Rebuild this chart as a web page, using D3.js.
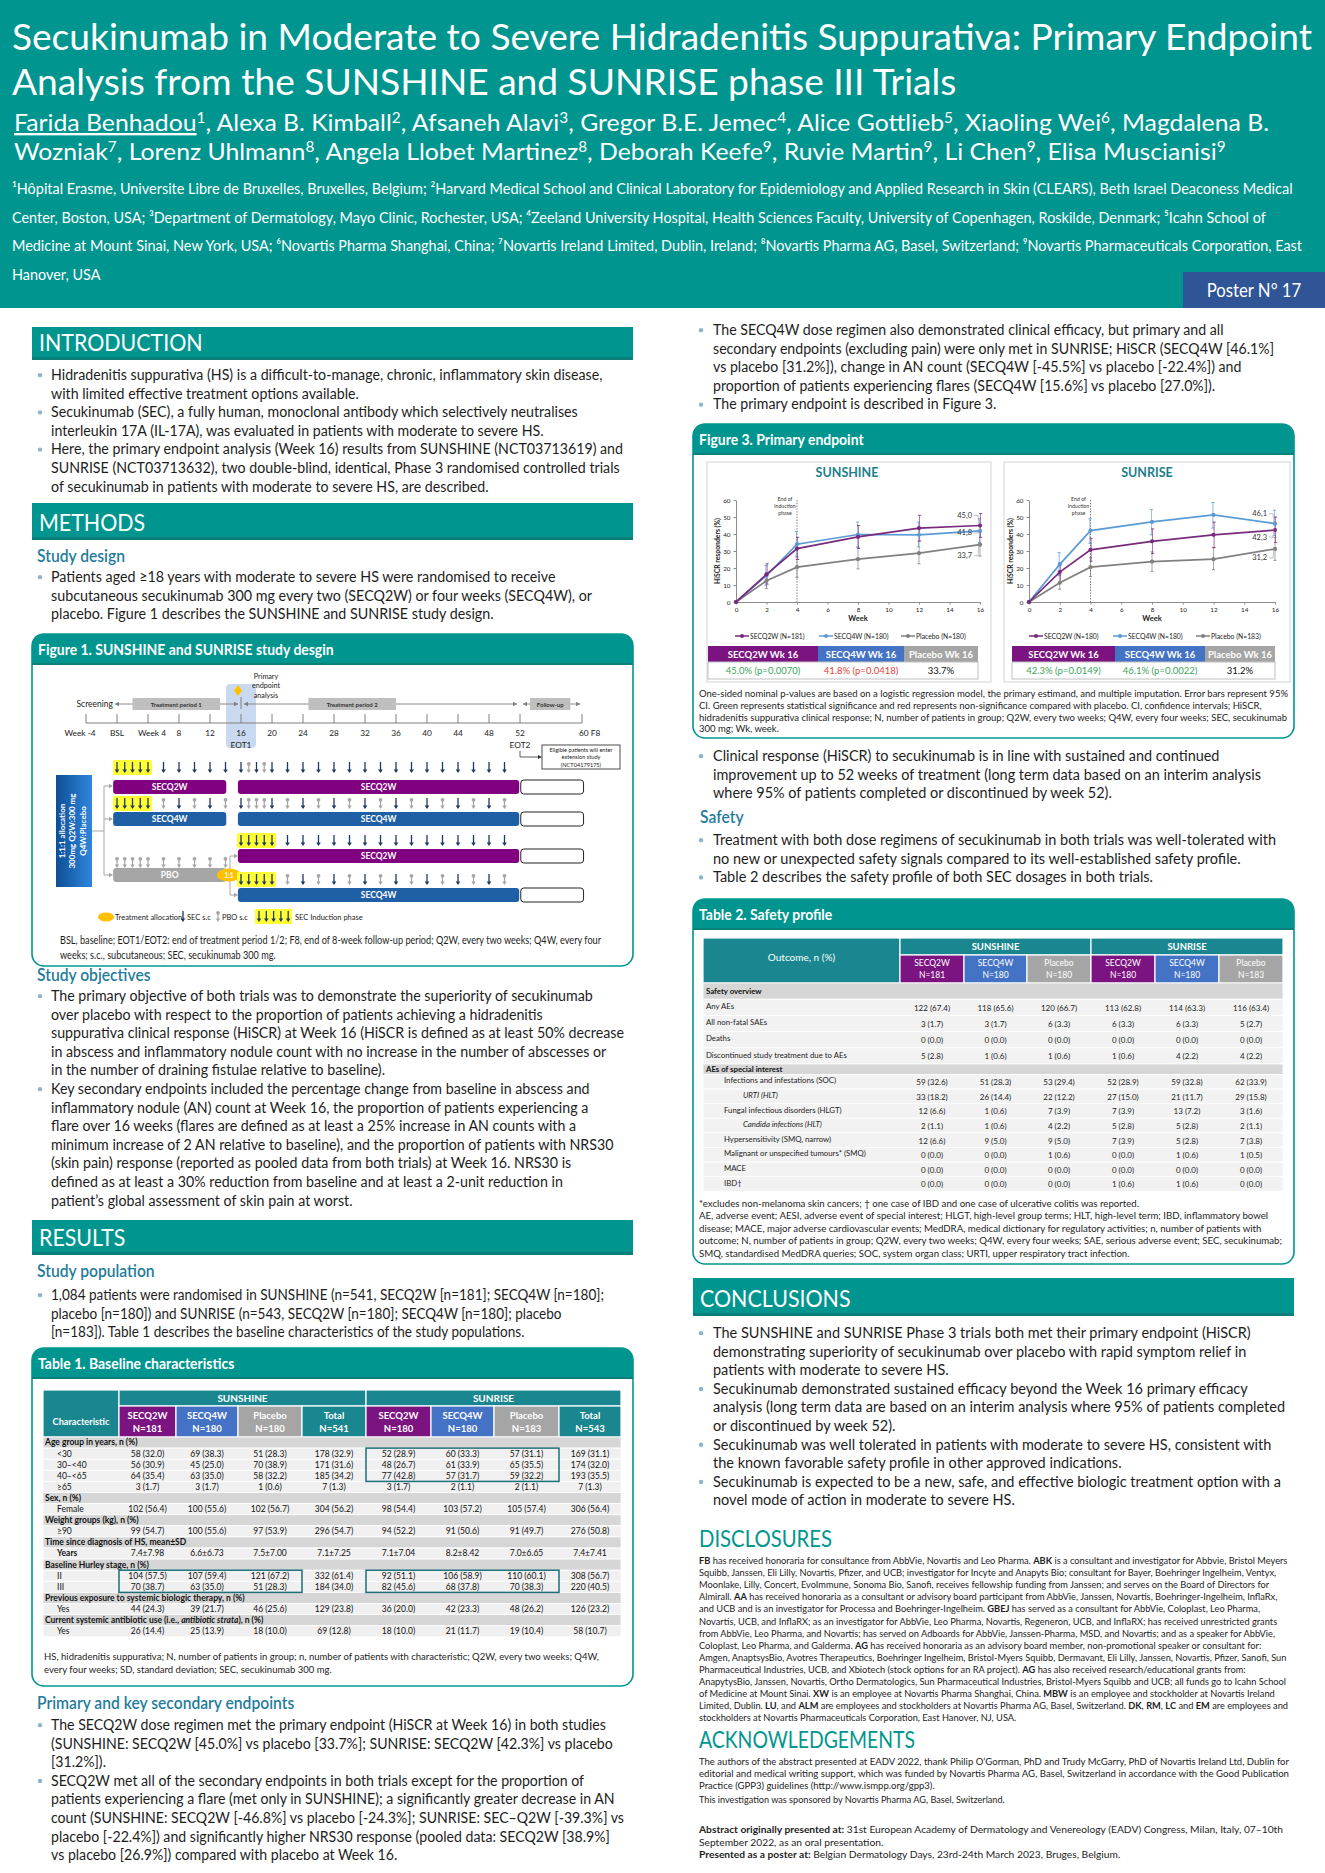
<!DOCTYPE html>
<html><head><meta charset="utf-8">
<script src="https://cdn.jsdelivr.net/npm/d3@7"></script>
<style>body{margin:0;background:#fff}svg{display:block}</style>
</head><body>
<svg id="poster" width="1325" height="1873"></svg>
<script>
// ================= DATA =================
const weeks = [0, 2, 4, 8, 12, 16];
const xTicks = [0, 2, 4, 6, 8, 10, 12, 14, 16];
const yTicks = [0, 10, 20, 30, 40, 50, 60];
const seriesNames = ['SECQ2W', 'SECQ4W', 'Placebo'];

const sunshineQ2W = [0, 16.3, 31.4, 38.3, 43.4, 45.0];
const sunshineQ2WLo = [0, 10.5, 25.0, 31.5, 36.0, 38.0];
const sunshineQ2WHi = [0, 22.5, 38.0, 45.0, 51.0, 52.0];
const sunshineQ4W = [0, 15.6, 34.0, 39.7, 39.5, 41.8];
const sunshineQ4WLo = [0, 9.5, 27.0, 32.5, 32.5, 35.0];
const sunshineQ4WHi = [0, 21.5, 41.5, 47.0, 47.0, 49.0];
const sunshinePBO = [0, 12.5, 20.5, 25.2, 28.7, 33.7];
const sunshinePBOLo = [0, 8.0, 14.5, 19.5, 22.5, 27.0];
const sunshinePBOHi = [0, 17.0, 26.5, 32.0, 35.5, 41.0];

const sunriseQ2W = [0, 17.6, 30.7, 35.7, 39.5, 42.3];
const sunriseQ2WLo = [0, 11.5, 24.0, 28.5, 32.0, 35.0];
const sunriseQ2WHi = [0, 23.0, 37.5, 43.0, 47.0, 50.0];
const sunriseQ4W = [0, 22.1, 42.0, 47.1, 51.2, 46.1];
const sunriseQ4WLo = [0, 15.5, 34.5, 39.5, 43.5, 39.0];
const sunriseQ4WHi = [0, 29.0, 49.0, 54.5, 58.5, 54.0];
const sunrisePBO = [0, 11.3, 20.5, 23.8, 25.2, 31.2];
const sunrisePBOLo = [0, 7.5, 15.0, 18.0, 19.0, 24.5];
const sunrisePBOHi = [0, 16.0, 26.0, 29.5, 32.0, 38.0];

const sunshineLegend = ['SECQ2W (N=181)', 'SECQ4W (N=180)', 'Placebo (N=180)'];
const sunriseLegend = ['SECQ2W (N=180)', 'SECQ4W (N=180)', 'Placebo (N=183)'];
const wk16Headers = ['SECQ2W Wk 16', 'SECQ4W Wk 16', 'Placebo Wk 16'];
const sunshineWk16 = ['45.0% (p=0.0070)', '41.8% (p=0.0418)', '33.7%'];
const sunshineWk16Sig = ['sig', 'ns', 'ref'];
const sunriseWk16 = ['42.3% (p=0.0149)', '46.1% (p=0.0022)', '31.2%'];
const sunriseWk16Sig = ['sig', 'sig', 'ref'];

// Figure 1 (study design) schedule, in weeks
const timelineWeeks = [-4, 0, 4, 8, 12, 16, 20, 24, 28, 32, 36, 40, 44, 48, 52, 60];
const timelineLabels = ['Week -4', 'BSL', 'Week 4', '8', '12', '16', '20', '24', '28', '32', '36', '40', '44', '48', '52', '60  F8'];
const row1Sec = [0, 1, 2, 3, 4, 6, 8, 10, 12, 14, 16, 18, 20, 22, 24, 26, 28, 30, 32, 34, 36, 38, 40, 42, 44, 46, 48, 50];
const row1Pbo = [17, 19];
const row2Sec = [0, 1, 2, 3, 4, 8, 12, 16, 20, 24, 28, 32, 36, 40, 44, 48];
const row2Pbo = [6, 10, 14, 17, 18, 19, 22, 26, 30, 34, 38, 42, 46, 50];
const row3Sec = [16, 17, 18, 19, 20, 22, 24, 26, 28, 30, 32, 34, 36, 38, 40, 42, 44, 46, 48, 50];
const row3Pbo = [];
const pboRowPbo = [0, 1, 2, 3, 4, 6, 8, 10, 12, 14];
const row4Sec = [16, 17, 18, 19, 20, 24, 28, 32, 36, 40, 44, 48];
const row4Pbo = [22, 26, 30, 34, 38, 42, 46, 50];

// Table 1
const t1Groups = ['SECQ2W', 'SECQ4W', 'Placebo', 'Total', 'SECQ2W', 'SECQ4W', 'Placebo', 'Total'];
const t1N = ['N=181', 'N=180', 'N=180', 'N=541', 'N=180', 'N=180', 'N=183', 'N=543'];
const t1Rows = [
  ['S', 'Age group in years, n (%)'],
  ['D', '<30', '58 (32.0)', '69 (38.3)', '51 (28.3)', '178 (32.9)', '52 (28.9)', '60 (33.3)', '57 (31.1)', '169 (31.1)'],
  ['D', '30–<40', '56 (30.9)', '45 (25.0)', '70 (38.9)', '171 (31.6)', '48 (26.7)', '61 (33.9)', '65 (35.5)', '174 (32.0)'],
  ['D', '40–<65', '64 (35.4)', '63 (35.0)', '58 (32.2)', '185 (34.2)', '77 (42.8)', '57 (31.7)', '59 (32.2)', '193 (35.5)'],
  ['D', '≥65', '3 (1.7)', '3 (1.7)', '1 (0.6)', '7 (1.3)', '3 (1.7)', '2 (1.1)', '2 (1.1)', '7 (1.3)'],
  ['S', 'Sex, n (%)'],
  ['D', 'Female', '102 (56.4)', '100 (55.6)', '102 (56.7)', '304 (56.2)', '98 (54.4)', '103 (57.2)', '105 (57.4)', '306 (56.4)'],
  ['S', 'Weight groups (kg), n (%)'],
  ['D', '≥90', '99 (54.7)', '100 (55.6)', '97 (53.9)', '296 (54.7)', '94 (52.2)', '91 (50.6)', '91 (49.7)', '276 (50.8)'],
  ['S', 'Time since diagnosis of HS, mean±SD'],
  ['B', 'Years', '7.4±7.98', '6.6±6.73', '7.5±7.00', '7.1±7.25', '7.1±7.04', '8.2±8.42', '7.0±6.65', '7.4±7.41'],
  ['S', 'Baseline Hurley stage, n (%)'],
  ['D', 'II', '104 (57.5)', '107 (59.4)', '121 (67.2)', '332 (61.4)', '92 (51.1)', '106 (58.9)', '110 (60.1)', '308 (56.7)'],
  ['D', 'III', '70 (38.7)', '63 (35.0)', '51 (28.3)', '184 (34.0)', '82 (45.6)', '68 (37.8)', '70 (38.3)', '220 (40.5)'],
  ['S', 'Previous exposure to systemic biologic therapy, n (%)'],
  ['D', 'Yes', '44 (24.3)', '39 (21.7)', '46 (25.6)', '129 (23.8)', '36 (20.0)', '42 (23.3)', '48 (26.2)', '126 (23.2)'],
  ['S', 'Current systemic antibiotic use (i.e., __antibiotic strata__), n (%)'],
  ['D', 'Yes', '26 (14.4)', '25 (13.9)', '18 (10.0)', '69 (12.8)', '18 (10.0)', '21 (11.7)', '19 (10.4)', '58 (10.7)']
];

// Table 2
const t2Groups = ['SECQ2W', 'SECQ4W', 'Placebo', 'SECQ2W', 'SECQ4W', 'Placebo'];
const t2N = ['N=181', 'N=180', 'N=180', 'N=180', 'N=180', 'N=183'];
const t2Rows = [
  ['S', 'Safety overview'],
  ['D0', 'Any AEs', '122 (67.4)', '118 (65.6)', '120 (66.7)', '113 (62.8)', '114 (63.3)', '116 (63.4)'],
  ['D0', 'All non-fatal SAEs', '3 (1.7)', '3 (1.7)', '6 (3.3)', '6 (3.3)', '6 (3.3)', '5 (2.7)'],
  ['D0', 'Deaths', '0 (0.0)', '0 (0.0)', '0 (0.0)', '0 (0.0)', '0 (0.0)', '0 (0.0)'],
  ['D0', 'Discontinued study treatment due to AEs', '5 (2.8)', '1 (0.6)', '1 (0.6)', '1 (0.6)', '4 (2.2)', '4 (2.2)'],
  ['S2', 'AEs of special interest'],
  ['D1', 'Infections and infestations (SOC)', '59 (32.6)', '51 (28.3)', '53 (29.4)', '52 (28.9)', '59 (32.8)', '62 (33.9)'],
  ['D2', 'URTI (HLT)', '33 (18.2)', '26 (14.4)', '22 (12.2)', '27 (15.0)', '21 (11.7)', '29 (15.8)'],
  ['D1', 'Fungal infectious disorders (HLGT)', '12 (6.6)', '1 (0.6)', '7 (3.9)', '7 (3.9)', '13 (7.2)', '3 (1.6)'],
  ['D2', 'Candida infections (HLT)', '2 (1.1)', '1 (0.6)', '4 (2.2)', '5 (2.8)', '5 (2.8)', '2 (1.1)'],
  ['D1', 'Hypersensitivity (SMQ, narrow)', '12 (6.6)', '9 (5.0)', '9 (5.0)', '7 (3.9)', '5 (2.8)', '7 (3.8)'],
  ['D1', 'Malignant or unspecified tumours* (SMQ)', '0 (0.0)', '0 (0.0)', '1 (0.6)', '0 (0.0)', '1 (0.6)', '1 (0.5)'],
  ['D1', 'MACE', '0 (0.0)', '0 (0.0)', '0 (0.0)', '0 (0.0)', '0 (0.0)', '0 (0.0)'],
  ['D1', 'IBD†', '0 (0.0)', '0 (0.0)', '0 (0.0)', '1 (0.6)', '1 (0.6)', '0 (0.0)']
];

// Texts
const titleLines = ['Secukinumab in Moderate to Severe Hidradenitis Suppurativa: Primary Endpoint',
  'Analysis from the SUNSHINE and SUNRISE phase III Trials'];
const authorLines = ['~~Farida Benhadou~~^1^, Alexa B. Kimball^2^, Afsaneh Alavi^3^, Gregor B.E. Jemec^4^, Alice Gottlieb^5^, Xiaoling Wei^6^, Magdalena B.',
  'Wozniak^7^, Lorenz Uhlmann^8^, Angela Llobet Martinez^8^, Deborah Keefe^9^, Ruvie Martin^9^, Li Chen^9^, Elisa Muscianisi^9^'];
const affiliationLines = [
  '\u00B9Hôpital Erasme, Universite Libre de Bruxelles, Bruxelles, Belgium; \u00B2Harvard Medical School and Clinical Laboratory for Epidemiology and Applied Research in Skin (CLEARS), Beth Israel Deaconess Medical',
  'Center, Boston, USA; \u00B3Department of Dermatology, Mayo Clinic, Rochester, USA; \u2074Zeeland University Hospital, Health Sciences Faculty, University of Copenhagen, Roskilde, Denmark; \u2075Icahn School of',
  'Medicine at Mount Sinai, New York, USA; \u2076Novartis Pharma Shanghai, China; \u2077Novartis Ireland Limited, Dublin, Ireland; \u2078Novartis Pharma AG, Basel, Switzerland; \u2079Novartis Pharmaceuticals Corporation, East',
  'Hanover, USA'];
const introLines = [
  '• Hidradenitis suppurativa (HS) is a difficult-to-manage, chronic, inflammatory skin disease,',
  'with limited effective treatment options available.',
  '• Secukinumab (SEC), a fully human, monoclonal antibody which selectively neutralises',
  'interleukin 17A (IL-17A), was evaluated in patients with moderate to severe HS.',
  '• Here, the primary endpoint analysis (Week 16) results from SUNSHINE (NCT03713619) and',
  'SUNRISE (NCT03713632), two double-blind, identical, Phase 3 randomised controlled trials',
  'of secukinumab in patients with moderate to severe HS, are described.'];
const designLines = [
  '• Patients aged ≥18 years with moderate to severe HS were randomised to receive',
  'subcutaneous secukinumab 300 mg every two (SECQ2W) or four weeks (SECQ4W), or',
  'placebo. Figure 1 describes the SUNSHINE and SUNRISE study design.'];
const fig1Notes = [
  'BSL, baseline; EOT1/EOT2: end of treatment period 1/2; F8, end of 8-week follow-up period; Q2W, every two weeks; Q4W, every four',
  'weeks; s.c., subcutaneous; SEC, secukinumab 300 mg.'];
const objectiveLines = [
  '• The primary objective of both trials was to demonstrate the superiority of secukinumab',
  'over placebo with respect to the proportion of patients achieving a hidradenitis',
  'suppurativa clinical response (HiSCR) at Week 16 (HiSCR is defined as at least 50% decrease',
  'in abscess and inflammatory nodule count with no increase in the number of abscesses or',
  'in the number of draining fistulae relative to baseline).',
  '• Key secondary endpoints included the percentage change from baseline in abscess and',
  'inflammatory nodule (AN) count at Week 16, the proportion of patients experiencing a',
  'flare over 16 weeks (flares are defined as at least a 25% increase in AN counts with a',
  'minimum increase of 2 AN relative to baseline), and the proportion of patients with NRS30',
  '(skin pain) response (reported as pooled data from both trials) at Week 16. NRS30 is',
  'defined as at least a 30% reduction from baseline and at least a 2-unit reduction in',
  'patient\u2019s global assessment of skin pain at worst.'];
const populationLines = [
  '• 1,084 patients were randomised in SUNSHINE (n=541, SECQ2W [n=181]; SECQ4W [n=180];',
  'placebo [n=180]) and SUNRISE (n=543, SECQ2W [n=180]; SECQ4W [n=180]; placebo',
  '[n=183]). Table 1 describes the baseline characteristics of the study populations.'];
const t1Notes = [
  'HS, hidradenitis suppurativa; N, number of patients in group; n, number of patients with characteristic; Q2W, every two weeks; Q4W,',
  'every four weeks; SD, standard deviation; SEC, secukinumab 300 mg.'];
const primaryLines = [
  '• The SECQ2W dose regimen met the primary endpoint (HiSCR at Week 16) in both studies',
  '(SUNSHINE: SECQ2W [45.0%] vs placebo [33.7%]; SUNRISE: SECQ2W [42.3%] vs placebo',
  '[31.2%]).',
  '• SECQ2W met all of the secondary endpoints in both trials except for the proportion of',
  'patients experiencing a flare (met only in SUNSHINE); a significantly greater decrease in AN',
  'count (SUNSHINE: SECQ2W [-46.8%] vs placebo [-24.3%]; SUNRISE: SEC\u2013Q2W [-39.3%] vs',
  'placebo [-22.4%]) and significantly higher NRS30 response (pooled data: SECQ2W [38.9%]',
  'vs placebo [26.9%]) compared with placebo at Week 16.'];
const q4wLines = [
  '• The SECQ4W dose regimen also demonstrated clinical efficacy, but primary and all',
  'secondary endpoints (excluding pain) were only met in SUNRISE; HiSCR (SECQ4W [46.1%]',
  'vs placebo [31.2%]), change in AN count (SECQ4W [-45.5%] vs placebo [-22.4%]) and',
  'proportion of patients experiencing flares (SECQ4W [15.6%] vs placebo [27.0%]).',
  '• The primary endpoint is described in Figure 3.'];
const fig3Notes = [
  'One-sided nominal p-values are based on a logistic regression model, the primary estimand, and multiple imputation. Error bars represent 95%',
  'CI. Green represents statistical significance and red represents non-significance compared with placebo. CI, confidence intervals; HiSCR,',
  'hidradenitis suppurativa clinical response;  N, number of patients in group; Q2W, every two weeks; Q4W, every four weeks; SEC, secukinumab',
  '300 mg; Wk, week.'];
const clinicalLines = [
  '• Clinical response (HiSCR) to secukinumab is in line with sustained and continued',
  'improvement up to 52 weeks of treatment (long term data based on an interim analysis',
  'where 95% of patients completed or discontinued by week 52).'];
const safetyLines = [
  '• Treatment with both dose regimens of secukinumab in both trials was well-tolerated with',
  'no new or unexpected safety signals compared to its well-established safety profile.',
  '• Table 2 describes the safety profile of both SEC dosages in both trials.'];
const t2Notes = [
  '*excludes non-melanoma skin cancers; \u2020 one case of IBD and one case of ulcerative colitis was reported.',
  'AE, adverse event; AESI, adverse event of special interest; HLGT, high-level group terms; HLT, high-level term; IBD, inflammatory bowel',
  'disease; MACE, major adverse cardiovascular events; MedDRA, medical dictionary for regulatory activities; n, number of patients with',
  'outcome; N, number of patients in group; Q2W, every two weeks; Q4W, every four weeks; SAE, serious adverse event; SEC, secukinumab;',
  'SMQ, standardised MedDRA queries; SOC, system organ class; URTI, upper respiratory tract infection.'];
const conclusionLines = [
  '• The SUNSHINE and SUNRISE Phase 3 trials both met their primary endpoint (HiSCR)',
  'demonstrating superiority of secukinumab over placebo with rapid symptom relief in',
  'patients with moderate to severe HS.',
  '• Secukinumab demonstrated sustained efficacy beyond the Week 16 primary efficacy',
  'analysis (long term data are based on an interim analysis where 95% of patients completed',
  'or discontinued by week 52).',
  '• Secukinumab was well tolerated in patients with moderate to severe HS, consistent with',
  'the known favorable safety profile in other approved indications.',
  '• Secukinumab is expected to be a new, safe, and effective biologic treatment option with a',
  'novel mode of action in moderate to severe HS.'];
const disclosureLines = [
  '**FB** has received honoraria for consultance from AbbVie, Novartis and Leo Pharma. **ABK** is a consultant and investigator for Abbvie, Bristol Meyers',
  'Squibb, Janssen, Eli Lilly, Novartis, Pfizer, and UCB; investigator for Incyte and Anapyts Bio; consultant for Bayer, Boehringer Ingelheim, Ventyx,',
  'Moonlake, Lilly, Concert, EvoImmune, Sonoma Bio, Sanofi, receives fellowship funding from Janssen; and serves on the Board of Directors for',
  'Almirall. **AA** has received honoraria as a consultant or advisory board participant from AbbVie, Janssen, Novartis, Boehringer-Ingelheim, InflaRx,',
  'and UCB and is an investigator for Processa and Boehringer-Ingelheim. **GBEJ** has served as a consultant for AbbVie, Coloplast, Leo Pharma,',
  'Novartis, UCB, and InflaRX; as an investigator for AbbVie, Leo Pharma, Novartis, Regeneron, UCB, and InflaRX; has received unrestricted grants',
  'from AbbVie, Leo Pharma, and Novartis; has served on Adboards for AbbVie, Janssen-Pharma, MSD, and Novartis; and as a speaker for AbbVie,',
  'Coloplast, Leo Pharma, and Galderma. **AG** has received honoraria as an advisory board member, non-promotional speaker or consultant for:',
  'Amgen, AnaptsysBio, Avotres Therapeutics, Boehringer Ingelheim, Bristol-Myers Squibb, Dermavant, Eli Lilly, Janssen, Novartis, Pfizer, Sanofi, Sun',
  'Pharmaceutical Industries, UCB, and Xbiotech (stock options for an RA project). **AG** has also received research/educational grants from:',
  'AnapytysBio, Janssen, Novartis, Ortho Dermatologics, Sun Pharmaceutical Industries, Bristol-Myers Squibb and UCB; all funds go to Icahn School',
  'of Medicine at Mount Sinai. **XW** is an employee at Novartis Pharma Shanghai, China. **MBW** is an employee and stockholder at Novartis Ireland',
  'Limited, Dublin.  **LU**, and **ALM** are employees and stockholders at Novartis Pharma AG, Basel, Switzerland. **DK**, **RM**, **LC** and **EM** are employees and',
  'stockholders at Novartis Pharmaceuticals Corporation, East Hanover, NJ, USA.'];
const ackLines = [
  'The authors of the abstract presented at EADV 2022, thank Philip O\u2019Gorman, PhD and Trudy McGarry, PhD of Novartis Ireland Ltd, Dublin for',
  'editorial and medical writing support, which was funded by Novartis Pharma AG, Basel, Switzerland in accordance with the Good Publication',
  'Practice (GPP3) guidelines (http://www.ismpp.org/gpp3).'];
const sponsorLine = 'This investigation was sponsored by Novartis Pharma AG, Basel, Switzerland.';
const presentedLines = [
  '**Abstract originally presented at:** 31st European Academy of Dermatology and Venereology (EADV) Congress, Milan, Italy, 07\u201310th',
  'September 2022, as an oral presentation.',
  '**Presented as a poster at:** Belgian Dermatology Days, 23rd-24th March 2023, Bruges, Belgium.'];

// ================= DRAWING =================
const F = "Lato, 'Noto Sans', 'DejaVu Sans', sans-serif";
const TEAL = '#00968F', TEAL_T = '#1A8790', PURPLE = '#7B1380', BLUE = '#4472C4', GRAY = '#A5A5A5';
const TXT = '#1d1d1d', SUBHEAD = '#1F7C9A', BULLET = '#8DB4C8';
const C_Q2W = '#7A2A7E', C_Q4W = '#5B9BD5', C_PBO = '#808080';
const svg = d3.select('#poster');

function rich(t, s) {
  const re = /(\*\*.+?\*\*|__.+?__|\^.+?\^|~~.+?~~)/g;
  s.split(re).forEach(p => {
    if (!p) return;
    const sp = t.append('tspan');
    if (p.startsWith('**')) sp.attr('font-weight', 'bold').text(p.slice(2, -2));
    else if (p.startsWith('__')) sp.attr('font-style', 'italic').text(p.slice(2, -2));
    else if (p.startsWith('~~')) sp.attr('text-decoration', 'underline').text(p.slice(2, -2));
    else if (p.startsWith('^') && p.length > 2) sp.attr('baseline-shift', 'super').attr('font-size', '62%').text(p.slice(1, -1));
    else sp.text(p);
  });
}
function T(g, x, y, s, o = {}) {
  const t = g.append('text').attr('x', x).attr('y', y)
    .attr('font-family', F).attr('font-size', o.size || 12).attr('fill', o.color || TXT);
  if (o.weight) t.attr('font-weight', o.weight);
  if (o.italic) t.attr('font-style', 'italic');
  if (o.anchor) t.attr('text-anchor', o.anchor);
  rich(t, s);
  if (o.w) t.attr('textLength', o.w).attr('lengthAdjust', 'spacingAndGlyphs');
  else if (o.sx) { const n = t.node().getComputedTextLength(); t.attr('textLength', n * o.sx).attr('lengthAdjust', 'spacingAndGlyphs'); }
  return t;
}
function para(lines, o) {
  const g = svg.append('g');
  const ts = lines.map((s, i) => {
    const y = o.y + i * o.lh;
    if (s.startsWith('• ')) {
      s = s.slice(2);
      g.append('circle').attr('cx', o.bx).attr('cy', y - o.size * 0.33).attr('r', o.size * 0.15).attr('fill', o.bcolor || BULLET);
    }
    return T(g, o.x, y, s, { size: o.size, color: o.color, weight: o.weight });
  });
  const nat = ts.map(t => t.node().getComputedTextLength());
  const f = o.maxW ? Math.min(1.2, o.maxW / d3.max(nat)) : (o.sx || 1);
  ts.forEach((t, i) => {
    let L = nat[i] * f;
    if (o.justify && o.justify.includes(i)) L = o.maxW;
    t.attr('textLength', L).attr('lengthAdjust', 'spacingAndGlyphs');
  });
  return g;
}
function sectionBar(x, y, w, h, label) {
  svg.append('rect').attr('x', x).attr('y', y).attr('width', w).attr('height', h).attr('fill', TEAL);
  svg.append('rect').attr('x', x).attr('y', y + h - 3).attr('width', w).attr('height', 3).attr('fill', '#0B7F79');
  T(svg, x + 7, y + h - 9, label, { size: 23, color: '#fff', sx: 0.93 });
}
function subHead(x, y, label) { T(svg, x, y, label, { size: 17, color: SUBHEAD, weight: 600, sx: 0.92 }); }
function boxFrame(x, y, w, h, barH, title) {
  const r = 12;
  svg.append('rect').attr('x', x).attr('y', y).attr('width', w).attr('height', h).attr('rx', r)
    .attr('fill', '#fff').attr('stroke', TEAL).attr('stroke-width', 1.6);
  svg.append('path').attr('d', `M${x},${y + barH} L${x},${y + r} Q${x},${y} ${x + r},${y} L${x + w - r},${y} Q${x + w},${y} ${x + w},${y + r} L${x + w},${y + barH} Z`)
    .attr('fill', TEAL);
  svg.append('rect').attr('x', x).attr('y', y + barH - 2).attr('width', w).attr('height', 2).attr('fill', '#0B7F79');
  T(svg, x + 6, y + barH - 10, title, { size: 15.5, color: '#fff', weight: 'bold', sx: 0.9 });
}

// ---------- HEADER ----------
svg.append('rect').attr('width', 1325).attr('height', 308).attr('fill', TEAL);
(function () {
  const g = svg.append('g');
  const t1 = T(g, 12, 50, titleLines[0], { size: 36, color: '#fff' });
  const n1 = t1.node().getComputedTextLength();
  const f = 1300 / n1;
  t1.attr('textLength', 1300).attr('lengthAdjust', 'spacingAndGlyphs');
  T(g, 12, 95, titleLines[1], { size: 36, color: '#fff', sx: f });
  const a1 = T(g, 14, 131, authorLines[0], { size: 23.5, color: '#fff' });
  const na = a1.node().getComputedTextLength();
  const fa = 1255 / na;
  a1.attr('textLength', 1255).attr('lengthAdjust', 'spacingAndGlyphs');
  T(g, 14, 160, authorLines[1], { size: 23.5, color: '#fff', sx: fa });
  para(affiliationLines, { x: 12, y: 194, lh: 28.6, size: 14.5, color: '#fff', maxW: 1290 });
  svg.append('rect').attr('x', 1183).attr('y', 272).attr('width', 142).attr('height', 36).attr('fill', '#2F5597');
  T(svg, 1254, 297, 'Poster N° 17', { size: 19, color: '#fff', anchor: 'middle', sx: 0.88 });
})();

// ---------- LEFT COLUMN ----------
sectionBar(32, 327, 601, 33, 'INTRODUCTION');
para(introLines, { x: 51, bx: 40, y: 380, lh: 18.6, size: 14.6, maxW: 572 });
sectionBar(32, 503, 601, 37, 'METHODS');
subHead(37, 562, 'Study design');
para(designLines, { x: 51, bx: 40, y: 582, lh: 18.6, size: 14.6, maxW: 541 });

// Figure 1
boxFrame(32, 634, 601, 332, 31, 'Figure 1. SUNSHINE and SUNRISE study desgin');
(function () {
  const g = svg.append('g');
  const wx = d3.scaleLinear().domain([0, 52]).range([117, 520]);
  const NAVY = '#1F3864', PIN = '#A6A6A6', BAR4 = '#1F5FA6', BAR2 = '#800080';
  g.append('rect').attr('x', wx(16) - 15).attr('y', 684).attr('width', 30).attr('height', 64).attr('rx', 4).attr('fill', '#C9DAF0');
  ['Primary', 'endpoint', 'analysis'].forEach((s, i) => T(g, wx(16) + 25, 679 + i * 9.4, s, { size: 7.2, anchor: 'middle', color: '#222' }));
  g.append('path').attr('d', `M${wx(16) - 3},685 L${wx(16) + 1},690.5 L${wx(16) - 3},696 L${wx(16) - 7},690.5Z`).attr('fill', '#FFC000');
  function dbl(x1, x2, y) {
    g.append('line').attr('x1', x1).attr('x2', x2).attr('y1', y).attr('y2', y).attr('stroke', '#7F7F7F').attr('stroke-width', 0.9);
    g.append('path').attr('d', `M${x1},${y} l4,-2.2 l0,4.4Z M${x2},${y} l-4,-2.2 l0,4.4Z`).attr('fill', '#7F7F7F');
  }
  T(g, wx(0) - 4, 707, 'Screening', { size: 8.5, anchor: 'end', color: '#222' });
  dbl(wx(0) - 2, wx(16) - 3, 704); dbl(wx(16) + 3, wx(52) - 3, 704); dbl(wx(52) + 3, wx(60) - 2, 704);
  g.append('line').attr('x1', wx(16)).attr('x2', wx(16)).attr('y1', 697).attr('y2', 709).attr('stroke', '#7F7F7F');
  [[2, 13.3, 'Treatment period 1'], [24.7, 36, 'Treatment period 2'], [53.3, 58.5, 'Follow-up']].forEach(d => {
    g.append('rect').attr('x', wx(d[0])).attr('y', 698).attr('width', wx(d[1]) - wx(d[0])).attr('height', 12).attr('fill', '#BFBFBF');
    T(g, (wx(d[0]) + wx(d[1])) / 2, 706.5, d[2], { size: 6, weight: 'bold', anchor: 'middle', color: '#333' });
  });
  g.append('line').attr('x1', wx(-4)).attr('x2', wx(60)).attr('y1', 723).attr('y2', 723).attr('stroke', '#7F7F7F').attr('stroke-width', 1);
  timelineWeeks.forEach((w, i) => {
    g.append('line').attr('x1', wx(w)).attr('x2', wx(w)).attr('y1', 714).attr('y2', 723).attr('stroke', '#7F7F7F').attr('stroke-width', 1);
    let lx = wx(w), anchor = 'middle';
    if (i === 0) lx -= 6;
    if (i === 2) lx += 4;
    if (i === timelineWeeks.length - 1) { lx -= 3; anchor = 'start'; }
    T(g, lx, 736, timelineLabels[i], { size: 8.3, anchor: anchor, color: '#222' });
  });
  T(g, wx(16), 748, 'EOT1', { size: 8.3, anchor: 'middle', color: '#222' });
  T(g, wx(52), 748, 'EOT2', { size: 8.3, anchor: 'middle', color: '#222' });
  g.append('path').attr('d', `M${wx(52)},751 L${wx(52)},757 L540,757`).attr('fill', 'none').attr('stroke', '#333').attr('stroke-width', 0.8);
  g.append('path').attr('d', `M542,757 l-4,-2 l0,4Z`).attr('fill', '#333');
  g.append('rect').attr('x', 542).attr('y', 745).attr('width', 78).attr('height', 24).attr('fill', '#fff').attr('stroke', '#222').attr('stroke-width', 0.8);
  ['Eligible patients will enter', 'extension study', '(NCT04179175)'].forEach((s, i) => T(g, 581, 752 + i * 7.3, s, { size: 5.6, anchor: 'middle', color: '#222' }));
  const grad = svg.append('defs').append('linearGradient').attr('id', 'alloc').attr('x1', 0).attr('x2', 1).attr('y1', 0).attr('y2', 0);
  grad.append('stop').attr('offset', 0).attr('stop-color', '#0F4F96');
  grad.append('stop').attr('offset', 1).attr('stop-color', '#2E86DE');
  g.append('rect').attr('x', 56).attr('y', 775).attr('width', 36).attr('height', 112).attr('fill', 'url(#alloc)');
  ['1:1:1 allocation', '300mg Q2W:300 mg', 'Q4W:Placebo'].forEach((s, i) =>
    T(g, 0, 0, s, { size: 8, weight: 'bold', anchor: 'middle', color: '#fff' }).attr('transform', `translate(${64.5 + i * 10.5},831) rotate(-90)`));
  const LG = '#A6A6A6';
  function arrowR(x1, x2, y) {
    g.append('line').attr('x1', x1).attr('x2', x2 - 3).attr('y1', y).attr('y2', y).attr('stroke', LG).attr('stroke-width', 1);
    g.append('path').attr('d', `M${x2},${y} l-4,-2.2 l0,4.4Z`).attr('fill', LG);
  }
  g.append('line').attr('x1', 92).attr('x2', 104).attr('y1', 831).attr('y2', 831).attr('stroke', LG);
  g.append('line').attr('x1', 104).attr('x2', 104).attr('y1', 786).attr('y2', 875).attr('stroke', LG);
  arrowR(104, 113, 786); arrowR(104, 113, 819); arrowR(104, 113, 875);
  g.append('line').attr('x1', 230).attr('x2', 230).attr('y1', 856).attr('y2', 895).attr('stroke', LG);
  arrowR(230, 238, 856); arrowR(230, 238, 895);
  const bars = [
    { y: 780, segs: [[-0.5, 14.1], [15.6, 51.9]], fill: BAR2, label: 'SECQ2W' },
    { y: 812, segs: [[-0.5, 14.1], [15.6, 51.9]], fill: BAR4, label: 'SECQ4W' },
    { y: 849, segs: [[15.6, 51.9]], fill: BAR2, label: 'SECQ2W' },
    { y: 868, segs: [[-0.5, 14.1]], fill: '#A6A6A6', label: 'PBO', nobox: true },
    { y: 888, segs: [[15.6, 51.9]], fill: BAR4, label: 'SECQ4W' }];
  bars.forEach(b => {
    b.segs.forEach(s => {
      g.append('rect').attr('x', wx(s[0])).attr('y', b.y).attr('width', wx(s[1]) - wx(s[0])).attr('height', 14).attr('rx', 3).attr('fill', b.fill);
      T(g, (wx(s[0]) + wx(s[1])) / 2, b.y + 10, b.label, { size: 8.5, weight: 'bold', anchor: 'middle', color: '#fff' });
    });
    if (!b.nobox) g.append('rect').attr('x', wx(52.1)).attr('y', b.y).attr('width', wx(60.2) - wx(52.1)).attr('height', 14).attr('rx', 3).attr('fill', '#fff').attr('stroke', '#222').attr('stroke-width', 1);
  });
  g.append('ellipse').attr('cx', 229).attr('cy', 875).attr('rx', 12).attr('ry', 6.5).attr('fill', '#FFC000');
  T(g, 229, 878, '1:1', { size: 6.5, weight: 'bold', anchor: 'middle', color: '#fff' });
  [[0, 760], [0, 796], [16, 833], [16, 872]].forEach(d =>
    g.append('rect').attr('x', wx(d[0]) - 4).attr('y', d[1]).attr('width', wx(4) - wx(0) + 8).attr('height', 15).attr('rx', 2).attr('fill', '#FFFF33'));
  function secArrow(x, y0, y1) {
    g.append('line').attr('x1', x).attr('x2', x).attr('y1', y0).attr('y2', y1 - 3).attr('stroke', NAVY).attr('stroke-width', 1.3);
    g.append('path').attr('d', `M${x - 2.3},${y1 - 3.5} L${x + 2.3},${y1 - 3.5} L${x},${y1}Z`).attr('fill', NAVY);
  }
  function pboPin(x, y0, y1) {
    g.append('circle').attr('cx', x).attr('cy', y0 + 1.8).attr('r', 1.9).attr('fill', PIN);
    g.append('line').attr('x1', x).attr('x2', x).attr('y1', y0 + 3).attr('y2', y1 - 3).attr('stroke', PIN).attr('stroke-width', 1.2);
    g.append('path').attr('d', `M${x - 2.2},${y1 - 3.5} L${x + 2.2},${y1 - 3.5} L${x},${y1}Z`).attr('fill', PIN);
  }
  const doseRows = [[row1Sec, row1Pbo, 762], [row2Sec, row2Pbo, 798], [row3Sec, row3Pbo, 835], [[], pboRowPbo, 857], [row4Sec, row4Pbo, 874]];
  doseRows.forEach(r => {
    r[0].forEach(w => secArrow(wx(w), r[2], r[2] + 11));
    r[1].forEach(w => pboPin(wx(w), r[2], r[2] + 11));
  });
  g.append('ellipse').attr('cx', 106).attr('cy', 917).attr('rx', 8).attr('ry', 4.5).attr('fill', '#FFC000');
  T(g, 115, 920, 'Treatment allocation', { size: 7.5, color: '#222' });
  secArrow(183, 911, 922);
  T(g, 187, 920, 'SEC s.c', { size: 7.5, color: '#222' });
  pboPin(218, 911, 922);
  T(g, 222, 920, 'PBO s.c', { size: 7.5, color: '#222' });
  g.append('rect').attr('x', 255).attr('y', 909).attr('width', 37).attr('height', 15).attr('fill', '#FFFF33');
  [0, 1, 2, 3, 4].forEach(i => secArrow(259 + i * 7.3, 911, 922));
  T(g, 295, 920, 'SEC Induction phase', { size: 7.5, color: '#222' });
})();
para(fig1Notes, { x: 60, y: 944, lh: 14.5, size: 10.8, maxW: 541 });

subHead(37, 981, 'Study objectives');
para(objectiveLines, { x: 51, bx: 40, y: 1001, lh: 18.6, size: 14.6, maxW: 573 });
sectionBar(32, 1220, 601, 35, 'RESULTS');
subHead(37, 1277, 'Study population');
para(populationLines, { x: 51, bx: 40, y: 1300, lh: 18.6, size: 14.6, maxW: 553 });

// Table 1
boxFrame(32, 1348, 601, 338, 31, 'Table 1. Baseline characteristics');
(function () {
  const g = svg.append('g');
  const cols = [43, 119, 176, 238, 302, 366, 431, 494, 559, 621];
  const fills = [PURPLE, BLUE, GRAY, TEAL_T, PURPLE, BLUE, GRAY, TEAL_T];
  const h0 = 1390, h1 = 1406, h2 = 1437, rh = 11.1;
  function cell(x, y, w, h, f) { g.append('rect').attr('x', x).attr('y', y).attr('width', w).attr('height', h).attr('fill', f).attr('stroke', '#fff').attr('stroke-width', 1.2); }
  cell(cols[0], h0, cols[1] - cols[0], h2 - h0, TEAL_T);
  T(g, (cols[0] + cols[1]) / 2, 1425, 'Characteristic', { size: 10, weight: 'bold', anchor: 'middle', color: '#fff', sx: 0.92 });
  cell(cols[1], h0, cols[5] - cols[1], h1 - h0, TEAL_T);
  cell(cols[5], h0, cols[9] - cols[5], h1 - h0, TEAL_T);
  T(g, (cols[1] + cols[5]) / 2, 1402, 'SUNSHINE', { size: 10, weight: 'bold', anchor: 'middle', color: '#fff' });
  T(g, (cols[5] + cols[9]) / 2, 1402, 'SUNRISE', { size: 10, weight: 'bold', anchor: 'middle', color: '#fff' });
  t1Groups.forEach((s, i) => {
    cell(cols[i + 1], h1, cols[i + 2] - cols[i + 1], h2 - h1, fills[i]);
    const cx = (cols[i + 1] + cols[i + 2]) / 2;
    T(g, cx, 1419, s, { size: 9.5, weight: 'bold', anchor: 'middle', color: '#fff' });
    T(g, cx, 1432, t1N[i], { size: 9.5, weight: 'bold', anchor: 'middle', color: '#fff' });
  });
  t1Rows.forEach((r, i) => {
    const y = h2 + i * rh;
    const sec = r[0] === 'S';
    g.append('rect').attr('x', cols[0]).attr('y', y).attr('width', cols[9] - cols[0]).attr('height', rh)
      .attr('fill', sec ? '#D6D6D6' : '#F0F0F0').attr('stroke', '#fff').attr('stroke-width', 0.8);
    if (sec) T(g, cols[0] + 2, y + 8.4, r[1], { size: 8.5, weight: 'bold', color: '#111' });
    else {
      T(g, cols[0] + 14, y + 8.4, r[1], { size: 8.5, weight: r[0] === 'B' ? 'bold' : null, color: '#111' });
      r.slice(2).forEach((v, j) => T(g, (cols[j + 1] + cols[j + 2]) / 2, y + 8.4, v, { size: 8.5, anchor: 'middle', color: '#111' }));
    }
  });
  function hl(c0, c1, r0, r1) {
    g.append('rect').attr('x', cols[c0]).attr('y', h2 + r0 * rh).attr('width', cols[c1] - cols[c0]).attr('height', (r1 - r0 + 1) * rh)
      .attr('fill', 'none').attr('stroke', '#1D6F78').attr('stroke-width', 1.5);
  }
  hl(5, 8, 1, 3); hl(1, 4, 12, 13); hl(5, 8, 12, 13);
})();
para(t1Notes, { x: 44, y: 1660, lh: 13.3, size: 10.2, maxW: 555 });

subHead(37, 1709, 'Primary and key secondary endpoints');
para(primaryLines, { x: 51, bx: 40, y: 1730, lh: 18.6, size: 14.6, maxW: 573 });

// ---------- RIGHT COLUMN ----------
para(q4wLines, { x: 713, bx: 701, y: 335, lh: 18.6, size: 14.6, maxW: 561 });
boxFrame(693, 424, 601, 314, 31, 'Figure 3. Primary endpoint');

function chart(o) {
  const g = svg.append('g');
  g.append('rect').attr('x', o.px).attr('y', 462).attr('width', o.pw).attr('height', 220).attr('fill', '#fff').attr('stroke', '#D3D3D3');
  T(g, o.tx, 477, o.title, { size: 12.5, weight: 'bold', anchor: 'middle', color: '#1E7F8C' });
  const x = d3.scaleLinear().domain([0, 16]).range([o.x0, o.x1]);
  const y = d3.scaleLinear().domain([0, 60]).range([602, 500]);
  const xa = g.append('g').attr('transform', `translate(0,${y(0)})`).call(d3.axisBottom(x).tickValues(xTicks).tickSize(2.5).tickPadding(3).tickSizeOuter(0));
  const ya = g.append('g').attr('transform', `translate(${x(0)},0)`).call(d3.axisLeft(y).tickValues(yTicks).tickSize(2.5).tickPadding(3).tickSizeOuter(0));
  [xa, ya].forEach(a => {
    a.selectAll('text').attr('font-family', F).attr('font-size', 6.3).attr('fill', '#222');
    a.selectAll('path,line').attr('stroke', '#8C8C8C');
  });
  T(g, 0, 0, 'HiSCR responders (%)', { size: 6.8, weight: 'bold', anchor: 'middle', color: '#222' }).attr('transform', `translate(${o.x0 - 16},551) rotate(-90)`);
  T(g, (o.x0 + o.x1) / 2, 621, 'Week', { size: 7.5, weight: 'bold', anchor: 'middle', color: '#222' });
  g.append('line').attr('x1', x(4)).attr('x2', x(4)).attr('y1', y(60)).attr('y2', y(0)).attr('stroke', '#444').attr('stroke-width', 0.7).attr('stroke-dasharray', '1.4,1.4');
  ['End of', 'induction', 'phase'].forEach((s, i) => T(g, x(4) - 12, 501 + i * 7, s, { size: 5.2, anchor: 'middle', color: '#333' }));
  const line = d3.line().x((d, i) => x(weeks[i])).y(d => y(d));
  o.series.slice().reverse().forEach(s => {
    weeks.forEach((w, i) => {
      if (w === 0) return;
      const xx = x(w) + s.off;
      g.append('line').attr('x1', xx).attr('x2', xx).attr('y1', y(s.lo[i])).attr('y2', y(s.hi[i])).attr('stroke', s.c).attr('stroke-width', 0.8).attr('opacity', 0.85);
      [s.lo[i], s.hi[i]].forEach(v => g.append('line').attr('x1', xx - 1.6).attr('x2', xx + 1.6).attr('y1', y(v)).attr('y2', y(v)).attr('stroke', s.c).attr('stroke-width', 0.8));
    });
  });
  o.series.slice().reverse().forEach(s => {
    g.append('path').datum(s.v).attr('d', line).attr('fill', 'none').attr('stroke', s.c).attr('stroke-width', 1.7);
    g.selectAll(null).data(s.v).join('circle').attr('cx', (d, i) => x(weeks[i])).attr('cy', d => y(d)).attr('r', 2.1).attr('fill', s.c);
  });
  o.series.forEach((s, k) => {
    const v = s.v[s.v.length - 1];
    const ly = y(v) + o.labOff[k];
    const lab = d3.format('.1f')(v).replace('.', ',');
    T(g, x(16) - 8, ly + 2.5, lab, { size: 7.5, anchor: 'end', color: '#333' });
    g.append('path').attr('d', `M${x(16) - 6},${ly} L${x(16) - 2},${ly} L${x(16) - 1},${y(v) - 1}`).attr('fill', 'none').attr('stroke', '#999').attr('stroke-width', 0.6);
  });
  o.series.forEach((s, k) => {
    const lx = o.px + o.legX[k];
    g.append('line').attr('x1', lx).attr('x2', lx + 14).attr('y1', 636).attr('y2', 636).attr('stroke', s.c).attr('stroke-width', 1.5);
    g.append('circle').attr('cx', lx + 7).attr('cy', 636).attr('r', 2).attr('fill', s.c);
    T(g, lx + 15, 638.5, o.legend[k], { size: 6.8, color: '#222' });
  });
  const tf = [PURPLE, BLUE, GRAY];
  let cx = o.tabX;
  o.tabW.forEach((w, k) => {
    g.append('rect').attr('x', cx).attr('y', 646).attr('width', w).attr('height', 16).attr('fill', tf[k]);
    T(g, cx + w / 2, 657.5, wk16Headers[k], { size: 9.5, weight: 'bold', anchor: 'middle', color: '#fff' });
    const col = o.sig[k] === 'sig' ? '#3BA55C' : o.sig[k] === 'ns' ? '#E3433B' : '#111';
    T(g, cx + w / 2, 674, o.wk16[k], { size: 9.5, anchor: 'middle', color: col });
    cx += w;
  });
  g.append('rect').attr('x', o.tabX).attr('y', 662).attr('width', d3.sum(o.tabW)).attr('height', 17).attr('fill', 'none').attr('stroke', '#BFBFBF');
}
chart({
  px: 707, pw: 284, tx: 847, x0: 736, x1: 980, title: 'SUNSHINE',
  series: [
    { v: sunshineQ2W, lo: sunshineQ2WLo, hi: sunshineQ2WHi, c: C_Q2W, off: 0.6 },
    { v: sunshineQ4W, lo: sunshineQ4WLo, hi: sunshineQ4WHi, c: C_Q4W, off: -0.6 },
    { v: sunshinePBO, lo: sunshinePBOLo, hi: sunshinePBOHi, c: C_PBO, off: 0 }],
  labOff: [-10, 2, 11], legX: [28, 112, 194], legend: sunshineLegend,
  tabX: 708, tabW: [110, 86, 74], wk16: sunshineWk16, sig: sunshineWk16Sig
});
chart({
  px: 1004, pw: 286, tx: 1147, x0: 1029, x1: 1275, title: 'SUNRISE',
  series: [
    { v: sunriseQ2W, lo: sunriseQ2WLo, hi: sunriseQ2WHi, c: C_Q2W, off: 0.6 },
    { v: sunriseQ4W, lo: sunriseQ4WLo, hi: sunriseQ4WHi, c: C_Q4W, off: -0.6 },
    { v: sunrisePBO, lo: sunrisePBOLo, hi: sunrisePBOHi, c: C_PBO, off: 0 }],
  labOff: [7, -10, 9], legX: [25, 109, 192], legend: sunriseLegend,
  tabX: 1012, tabW: [103, 90, 70], wk16: sunriseWk16, sig: sunriseWk16Sig
});
para(fig3Notes, { x: 699, y: 697, lh: 11.8, size: 9.0, maxW: 589 });

para(clinicalLines, { x: 713, bx: 701, y: 761, lh: 18.6, size: 14.6, maxW: 548 });
subHead(700, 823, 'Safety');
para(safetyLines, { x: 713, bx: 701, y: 845, lh: 18.6, size: 14.6, maxW: 563 });

// Table 2
boxFrame(693, 899, 601, 365, 31, 'Table 2. Safety profile');
(function () {
  const g = svg.append('g');
  const cols = [703, 900, 964, 1027, 1091, 1155, 1219, 1283];
  const fills = [PURPLE, BLUE, GRAY, PURPLE, BLUE, GRAY];
  const h0 = 938, h1 = 955, h2 = 983;
  function cell(x, y, w, h, f) { g.append('rect').attr('x', x).attr('y', y).attr('width', w).attr('height', h).attr('fill', f).attr('stroke', '#fff').attr('stroke-width', 1.2); }
  cell(cols[0], h0, cols[1] - cols[0], h2 - h0, TEAL_T);
  T(g, (cols[0] + cols[1]) / 2, 961, 'Outcome, n (%)', { size: 10, anchor: 'middle', color: '#fff' });
  cell(cols[1], h0, cols[4] - cols[1], h1 - h0, TEAL_T);
  cell(cols[4], h0, cols[7] - cols[4], h1 - h0, TEAL_T);
  T(g, (cols[1] + cols[4]) / 2, 950, 'SUNSHINE', { size: 9.5, weight: 'bold', anchor: 'middle', color: '#fff' });
  T(g, (cols[4] + cols[7]) / 2, 950, 'SUNRISE', { size: 9.5, weight: 'bold', anchor: 'middle', color: '#fff' });
  t2Groups.forEach((s, i) => {
    cell(cols[i + 1], h1, cols[i + 2] - cols[i + 1], h2 - h1, fills[i]);
    const cx = (cols[i + 1] + cols[i + 2]) / 2;
    T(g, cx, 966, s, { size: 8.5, anchor: 'middle', color: '#fff' });
    T(g, cx, 978, t2N[i], { size: 8.5, anchor: 'middle', color: '#fff' });
  });
  let y = h2;
  t2Rows.forEach(r => {
    const rh = r[0] === 'S2' ? 10.5 : (r[0] === 'S' || r[0] === 'D0') ? 16.2 : 14.6;
    const sec = r[0][0] === 'S';
    g.append('rect').attr('x', cols[0]).attr('y', y).attr('width', cols[7] - cols[0]).attr('height', rh)
      .attr('fill', sec ? '#D6D6D6' : '#F2F2F2').attr('stroke', '#fff').attr('stroke-width', 0.8);
    const by = y + rh / 2 + 2.8;
    if (sec) T(g, cols[0] + 3, by, r[1], { size: 7.8, weight: 'bold', color: '#111' });
    else {
      const ind = r[0] === 'D1' ? 21 : r[0] === 'D2' ? 40 : 3;
      T(g, cols[0] + ind, by - 1.2, r[1], { size: 7.8, color: '#222', italic: r[0] === 'D2' });
      r.slice(2).forEach((v, j) => T(g, (cols[j + 1] + cols[j + 2]) / 2, by + 0.5, v, { size: 8, anchor: 'middle', color: '#222' }));
    }
    y += rh;
  });
})();
para(t2Notes, { x: 699, y: 1207, lh: 12.4, size: 9.5, maxW: 583 });

sectionBar(693, 1278, 601, 38, 'CONCLUSIONS');
para(conclusionLines, { x: 713, bx: 701, y: 1338, lh: 18.6, size: 14.6, maxW: 572 });

T(svg, 699, 1547, 'DISCLOSURES', { size: 23, color: TEAL, w: 133 });
para(disclosureLines, { x: 699, y: 1564, lh: 12.1, size: 9.2, maxW: 589 });
T(svg, 699, 1748, 'ACKNOWLEDGEMENTS', { size: 23, color: TEAL, w: 216 });
para(ackLines, { x: 699, y: 1765, lh: 12, size: 9.1, maxW: 590, justify: [0, 1] });
T(svg, 699, 1803, sponsorLine, { size: 9.6, sx: 0.95 });
para(presentedLines, { x: 699, y: 1833, lh: 12.7, size: 9.7, maxW: 584 });
</script>
</body></html>
